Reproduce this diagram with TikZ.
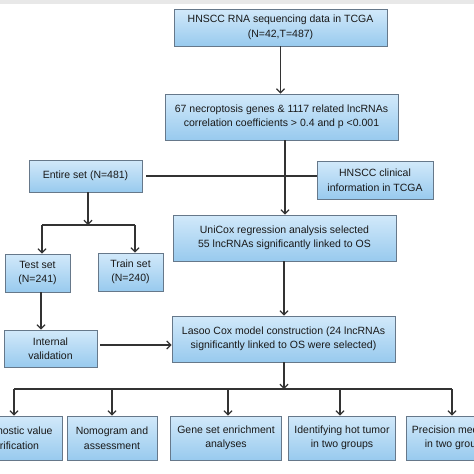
\documentclass[tikz,border=0pt]{standalone}
\usepackage{fontspec}
\setmainfont{Liberation Sans}
\usetikzlibrary{arrows.meta}
\definecolor{boxtop}{HTML}{D2E9FA}
\definecolor{boxbot}{HTML}{98CAEE}
\definecolor{boxline}{HTML}{66788A}
\definecolor{linegray}{HTML}{333333}
\begin{document}
\begin{tikzpicture}[x=1pt,y=-1pt,>={Straight Barb[length=4pt,width=8pt]},line width=1.2pt]
		\tikzset{block/.style={rectangle,draw=boxline,line width=0.9pt,top color=boxtop,bottom color=boxbot,align=center,inner sep=0pt,text=black!90,font=\fontsize{10.5}{14.5}\selectfont}}
		\clip (0,0) rectangle (474,474);
		\fill[black!9] (0,0) rectangle (474,4);
		\node[block,minimum width=213pt,minimum height=37pt](seq)at (280.5,27.5){HNSCC RNA sequencing data in TCGA\\(N=42,T=487)};
		\node[block,minimum width=233pt,minimum height=46pt](corr)at (281.5,117){67 necroptosis genes \& 1117 related lncRNAs\\correlation coefficients > 0.4 and p <0.001};
		\node[block,minimum width=113pt,minimum height=32pt](entire)at (85.5,176){Entire set (N=481)};
		\node[block,minimum width=116pt,minimum height=38pt](clinical)at (375,180){HNSCC clinical\\information in TCGA};
		\node[block,minimum width=223pt,minimum height=46pt](unicox)at (284.5,238){UniCox regression analysis selected\\55 lncRNAs significantly linked to OS};
		\node[block,minimum width=65pt,minimum height=38pt](test)at (37.5,273){Test set\\(N=241)};
		\node[block,minimum width=65pt,minimum height=38pt](train)at (130.5,272){Train set\\(N=240)};
		\node[block,minimum width=223pt,minimum height=46pt](lasso)at (283.5,339){Lasoo Cox model construction (24 lncRNAs\\significantly linked to OS were selected)};
		\node[block,minimum width=93pt,minimum height=37pt](internal)at (50.5,348.5){Internal\\validation};
		\node[block,minimum width=96pt,minimum height=44pt](diag)at (14,438){Diagnostic value\\verification};
		\node[block,minimum width=90pt,minimum height=44pt](nomo)at (112,438){Nomogram and\\assessment};
		\node[block,minimum width=111pt,minimum height=44pt](gsea)at (226,438){Gene set enrichment\\analyses};
		\node[block,minimum width=107pt,minimum height=44pt](hot)at (342,438){Identifying hot tumor\\in two groups};
		\node[block,minimum width=100pt,minimum height=44pt](prec)at (456,438){Precision medicine\\in two groups};
		\coordinate (split) at (88,225);
		\coordinate (sl) at (42,225);
		\coordinate (sr) at (135,225);
		\coordinate (hub) at (284,389);
		\begin{scope}[draw=linegray]
		\draw[->] (seq.south) -- (seq.south |- corr.north);
		\draw[->] (corr.south -| 285,0) -- (unicox.north -| 285,0);
		\draw ([xshift=4pt]entire.east) -- (entire.east -| clinical.west);
		\draw[->] (entire.south -| split) -- (split);
		\draw (sl) -- (sr);
		\draw[->] (sl) -- (sl |- test.north);
		\draw[->] (sr) -- (sr |- train.north);
		\draw[->] (unicox.south -| hub) -- (lasso.north -| hub);
		\draw[->] (41,292) -- (41,0 |- internal.north);
		\draw[->] ([xshift=3pt]internal.east |- 0,345) -- (lasso.west |- 0,345);
		\draw[->] (lasso.south -| hub) -- (hub);
		\draw (14,389) -- (452,389);
		\foreach \n/\x in {diag/14,nomo/112,gsea/228,hot/340,prec/452}
		\draw[->] (\x,389) -- (\x,0 |- \n.north);
		\end{scope}
		\end{tikzpicture}
\end{document}
